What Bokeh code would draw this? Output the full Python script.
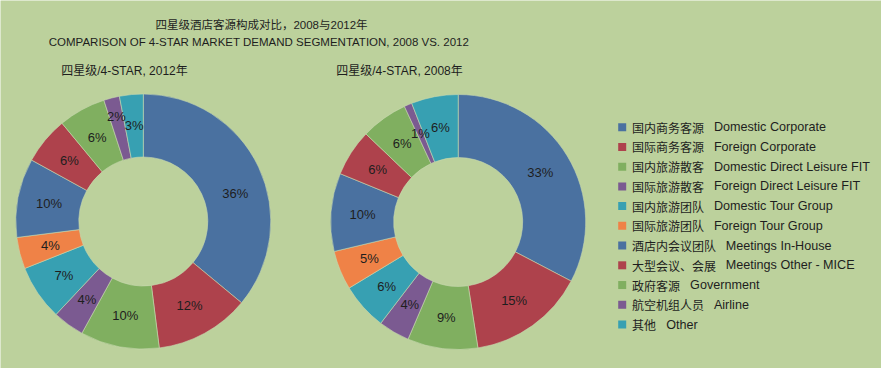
import math
from bokeh.plotting import figure
from bokeh.models import Range1d, ColumnDataSource
from bokeh.core.properties import value
from bokeh.embed import file_html
from bokeh.resources import INLINE

# ---------------- data ----------------
segments_cn = ["国内商务客源", "国际商务客源", "国内旅游散客", "国际旅游散客", "国内旅游团队",
               "国际旅游团队", "酒店内会议团队", "大型会议、会展", "政府客源", "航空机组人员", "其他"]
segments_en = ["Domestic Corporate", "Foreign Corporate", "Domestic Direct Leisure FIT",
               "Foreign Direct Leisure FIT", "Domestic Tour Group", "Foreign Tour Group",
               "Meetings In-House", "Meetings Other - MICE", "Government", "Airline", "Other"]
share_2012 = [36, 12, 10, 4, 7, 4, 10, 6, 6, 2, 3]
share_2008 = [33, 15, 9, 4, 6, 5, 10, 6, 6, 1, 6]

title_cn = "四星级酒店客源构成对比，2008与2012年"
title_en = "COMPARISON OF 4-STAR MARKET DEMAND SEGMENTATION, 2008 VS.  2012"
sub_2012 = "四星级/4-STAR, 2012年"
sub_2008 = "四星级/4-STAR, 2008年"

# ---------------- style ----------------
BG = "#bcd19c"
palette = ["#4a71a0", "#ae424c", "#80af60", "#7b5a91", "#37a0b2", "#ef8247",
           "#4a71a0", "#ae424c", "#80af60", "#7b5a91", "#37a0b2"]
FONT = "Liberation Sans, Noto Sans CJK SC"
TXT = "#1e1e1e"

W, H = 881, 368

def Y(img_y):
    return H - img_y

p = figure(width=W, height=H, output_backend="svg", toolbar_location=None,
           x_range=Range1d(0, W), y_range=Range1d(0, H),
           min_border=0, background_fill_color=BG, border_fill_color=BG)
p.axis.visible = False
p.grid.visible = False
p.outline_line_color = None


def donut(cx, cy, values, label_adjust):
    total = float(sum(values))
    r_in, r_out = 64.5, 127.5
    starts, ends, lx, ly, labels = [], [], [], [], []
    cum = 0.0
    for i, v in enumerate(values):
        a0 = math.pi / 2 - cum / total * 2 * math.pi
        cum += v
        a1 = math.pi / 2 - cum / total * 2 * math.pi
        starts.append(a0)
        ends.append(a1)
        rf, da = label_adjust.get(i, (1.0, 0.0))
        mid = (a0 + a1) / 2 + math.radians(da)
        rm = (r_in + r_out) / 2 * rf
        lx.append(cx + rm * math.cos(mid))
        ly.append(Y(cy) + rm * math.sin(mid))
        labels.append(f"{v}%")
    src = ColumnDataSource(dict(s=starts, e=ends, c=palette[:len(values)]))
    p.annular_wedge(x=cx, y=Y(cy), inner_radius=r_in, outer_radius=r_out,
                    start_angle="s", end_angle="e", direction="clock",
                    fill_color="c", line_color="#c8d8b0", line_width=0.6, source=src)
    p.text(x=lx, y=ly, text=labels, text_align="center", text_baseline="middle",
           text_font=value(FONT), text_font_size="13px", text_color=TXT)


donut(142.8, 221.0, share_2012, {0: (1.0, -8.5), 9: (1.13, 0.0)})
donut(457.7, 221.5, share_2008, {})

# titles
p.text(x=[261], y=[Y(24)], text=[title_cn], text_align="center", text_baseline="middle",
       text_font=value(FONT), text_font_size="11.5px", text_color=TXT)
p.text(x=[260], y=[Y(41.5)], text=[title_en], text_align="center", text_baseline="middle",
       text_font=value(FONT), text_font_size="11.5px", text_color=TXT)
p.text(x=[124, 399], y=[Y(70.5), Y(70.5)], text=[sub_2012, sub_2008], text_align="center",
       text_baseline="middle", text_font=value(FONT), text_font_size="12px", text_color=TXT)

# legend
row0, step = 126.7, 19.73
ly = [Y(row0 + i * step) for i in range(len(segments_cn))]
p.rect(x=[621.7] * len(ly), y=ly, width=8, height=8, fill_color=palette, line_color=None)
p.text(x=[631.5] * len(ly), y=ly, text=segments_cn, text_align="left", text_baseline="middle",
       text_font=value("Noto Sans CJK SC"), text_font_size="12px", text_color=TXT)
en_x = [631.5 + len(s) * 11.9 + 10.5 for s in segments_cn]
p.text(x=en_x, y=ly, text=segments_en, text_align="left", text_baseline="middle",
       text_font=value("Liberation Sans"), text_font_size="12.6px", text_color=TXT)

html = file_html(p, INLINE)
open("out.html", "w").write(html)
